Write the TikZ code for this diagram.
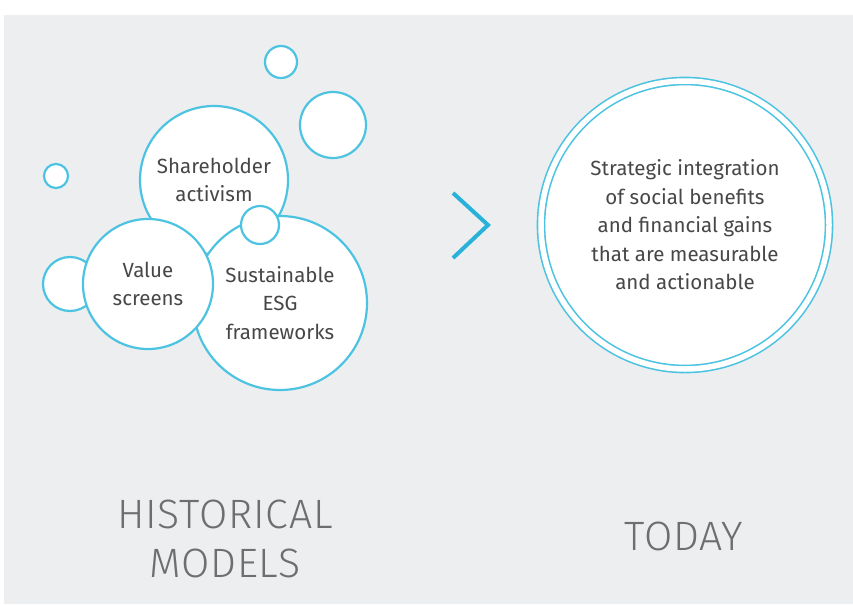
\documentclass[tikz,border=0pt]{standalone}
\usepackage{fontspec}
\setmainfont{Fira Sans}
\newfontfamily\titlefont{Fira Sans}[UprightFont=* Light, LetterSpace=2]
\usetikzlibrary{positioning}
\definecolor{bubbleblue}{HTML}{4DC3E2}
\definecolor{chevblue}{HTML}{29B2D9}
\definecolor{panelgray}{HTML}{EDEEF0}
\definecolor{textgray}{HTML}{474747}
\definecolor{titlegray}{HTML}{6E6E6E}

\begin{document}
\begin{tikzpicture}[
    x=1pt, y=-1pt,
    every node/.style={font=\fontsize{20.5}{28.5}\selectfont, text=textgray},
    bubble/.style={circle, draw=bubbleblue, fill=white, line width=2.2pt, inner sep=0pt, align=center},
    ring/.style={bubble, line width=1.6pt, double=white, double distance=5.5pt},
    title/.style={font=\titlefont\fontsize{41}{49}\selectfont, text=titlegray, align=center}
]
    % --- panel ---
    \useasboundingbox (0,0) rectangle (853,605);
    \fill[white] (0,0) rectangle (853,605);
    \fill[panelgray] (4,15) rectangle (853,604);

    % --- historical models (bubbles) ---
    \node[bubble, minimum size=32pt] (topdot) at (281,62) {};
    \node[bubble, minimum size=66pt] (midbub) at (333,125) {};
    \node[bubble, minimum size=24pt] (leftdot) at (56,176) {};
    \node[bubble, minimum size=54pt] (sidebub) at (70,284) {};
    \node[bubble, minimum size=148pt] (share) at (214,180) {Shareholder\\activism};
    \node[bubble, minimum size=174pt] (esg) at (280,303) {Sustainable\\ESG\\frameworks};
    \node[bubble, minimum size=130pt] (value) at (148,284) {Value\\screens};
    \node[bubble, minimum size=38pt] (joint) at (260,225) {};

    % --- arrow between the two stages ---
    \coordinate (chevtop) at (453,193);
    \coordinate (chevtip) at (488,225);
    \coordinate (chevbot) at (453,258);
    \draw[chevblue, line width=4pt] (chevtop) -- (chevtip) -- (chevbot);

    % --- today ---
    \node[ring, minimum size=288pt] (today) at (685,225)
        {Strategic integration\\of social benefits\\and financial gains\\that are measurable\\and actionable};

    % --- captions ---
    \node[title] (histlbl) at (225,539) {HISTORICAL\\MODELS};
    \node[title, anchor=base] (todaylbl) at (684,550) {TODAY};
\end{tikzpicture}
\end{document}
